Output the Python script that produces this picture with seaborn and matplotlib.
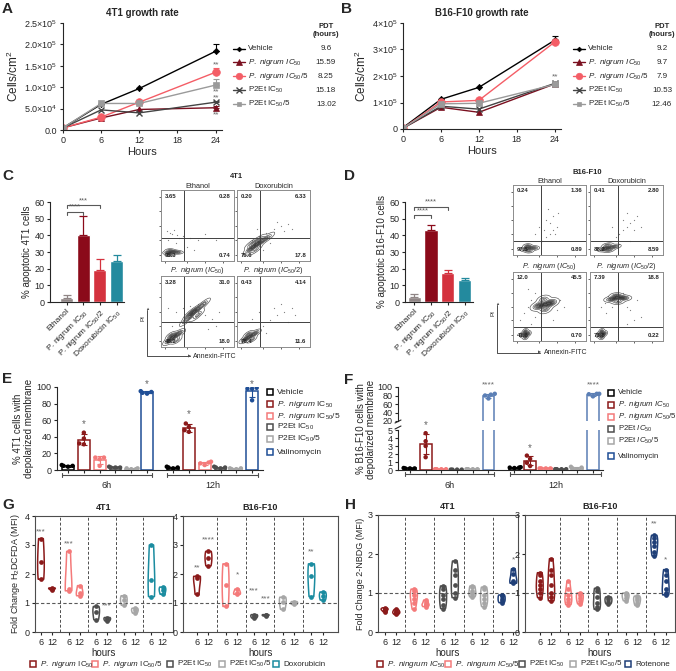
import pandas as pd
import matplotlib
matplotlib.use("Agg")
import matplotlib.pyplot as plt
from matplotlib.lines import Line2D
from matplotlib.patches import Rectangle
import seaborn as sns

sns.set_theme(style="ticks")
plt.rcParams["font.family"] = ["Liberation Sans", "DejaVu Sans"]
plt.rcParams["mathtext.fontset"] = "custom"
plt.rcParams["mathtext.rm"] = "Liberation Sans"
plt.rcParams["mathtext.it"] = "Liberation Sans:italic"
plt.rcParams["mathtext.bf"] = "Liberation Sans:bold"
plt.rcParams["axes.linewidth"] = 0.8
plt.rcParams["xtick.major.width"] = 0.8
plt.rcParams["ytick.major.width"] = 0.8
plt.rcParams["xtick.major.size"] = 2.5
plt.rcParams["ytick.major.size"] = 2.5
plt.rcParams["axes.edgecolor"] = "0.15"

# ---------------- data ----------------
# A / B : growth curves
hours = [0, 6, 12, 24]
a_vehicle = [5e3, 6.0e4, 9.7e4, 1.84e5]
a_pn50 = [5e3, 2.8e4, 4.8e4, 5.2e4]
a_pn5 = [5e3, 3.0e4, 6.5e4, 1.35e5]
a_p2 = [5e3, 4.7e4, 4.0e4, 6.5e4]
a_p25 = [5e3, 6.2e4, 6.2e4, 1.05e5]
a_err24 = [1.6e4, 4e3, 1.1e4, 3e3, 1.5e4]
a_pdt = ["9.6", "15.59", "8.25", "15.18", "13.02"]
a_stars = [1.52e5, 0.9e5, 0.74e5, 0.35e5]

b_vehicle = [5e3, 1.12e5, 1.57e5, 3.35e5]
b_pn50 = [3e3, 0.82e5, 0.63e5, 1.70e5]
b_pn5 = [3e3, 1.02e5, 1.08e5, 3.28e5]
b_p2 = [3e3, 0.86e5, 0.75e5, 1.72e5]
b_p25 = [3e3, 0.95e5, 0.97e5, 1.68e5]
b_err24 = [1.6e4, 8e3, 5e3, 6e3, 8e3]
b_pdt = ["9.2", "9.7", "7.9", "10.53", "12.46"]
b_stars = [1.95e5]

growth_labels = ["Vehicle", r"$\it{P.\ nigrum\ IC_{50}}$", r"$\it{P.\ nigrum\ IC_{50}}$/5",
                 "P2Et IC$_{50}$", "P2Et IC$_{50}$/5"]
growth_colors = ["black", "#7a0f1f", "#f45d66", "#444444", "#9a9a9a"]
growth_markers = ["D", "^", "o", "x", "s"]
growth_ms = [3.2, 4.5, 5.5, 4.5, 4.0]

# C / D : apoptosis bars
apop_labels = ["Ethanol", "P. nigrum IC$_{50}$", "P. nigrum IC$_{50}$/2", "Doxorubicin IC$_{50}$"]
apop_colors = ["#8f8585", "#8b0a1a", "#d4323e", "#238a9e"]
c_mean = [2.5, 40.5, 19.5, 24.5]
c_sd = [1.5, 11.0, 6.5, 4.0]
d_mean = [3.0, 43.5, 17.5, 13.0]
d_sd = [2.0, 2.5, 1.5, 1.3]

# flow cytometry quadrant percentages (UL, UR, LL, LR)
q_4t1 = [["3.65", "0.28", "95.3", "0.74"], ["0.20", "6.33", "75.6", "17.8"],
         ["3.28", "31.0", "48.2", "18.0"], ["0.43", "4.14", "78.4", "11.6"]]
q_b16 = [["0.24", "1.36", "97.5", "0.89"], ["0.41", "2.80", "88.2", "8.59"],
         ["12.0", "45.5", "41.8", "0.70"], ["7.39", "18.8", "73.8", "0.22"]]

# dense cell populations (axis fraction units), one cloud per population
fl_4t1_eth = [([0.09, 0.12, 0.15, 0.12, 0.12, 0.19, 0.24], [0.12, 0.11, 0.13, 0.15, 0.09, 0.13, 0.12])]
fl_4t1_dox = [([0.18, 0.22, 0.28, 0.34, 0.42, 0.25, 0.30, 0.20], [0.16, 0.20, 0.24, 0.28, 0.33, 0.16, 0.30, 0.24])]
fl_4t1_pn = [([0.10, 0.15, 0.20, 0.26, 0.14, 0.21], [0.08, 0.12, 0.16, 0.20, 0.16, 0.10]),
             ([0.35, 0.42, 0.50, 0.58, 0.45, 0.50, 0.40], [0.38, 0.45, 0.53, 0.60, 0.50, 0.45, 0.47])]
fl_4t1_pn2 = [([0.10, 0.15, 0.20, 0.26, 0.16, 0.20], [0.10, 0.13, 0.16, 0.20, 0.18, 0.11])]
fl_b16_eth = [([0.16, 0.20, 0.24, 0.30, 0.20, 0.22], [0.08, 0.10, 0.10, 0.10, 0.13, 0.06])]
fl_b16_dox = [([0.18, 0.22, 0.28, 0.35, 0.24, 0.26], [0.08, 0.10, 0.11, 0.12, 0.14, 0.07])]
fl_b16_pn = [([0.13, 0.17, 0.21, 0.17, 0.17], [0.09, 0.10, 0.11, 0.14, 0.06]),
             ([0.33, 0.40, 0.48, 0.54, 0.42, 0.44], [0.50, 0.52, 0.54, 0.56, 0.60, 0.46])]
fl_b16_pn2 = [([0.12, 0.16, 0.20, 0.16, 0.16], [0.09, 0.10, 0.11, 0.14, 0.06]),
              ([0.28, 0.34, 0.42, 0.48, 0.36, 0.38], [0.60, 0.62, 0.63, 0.62, 0.66, 0.57])]
# sparse events
dots_4t1 = [([0.08, 0.12, 0.15, 0.18, 0.22, 0.30, 0.40, 0.50, 0.60, 0.75, 0.20, 0.35, 0.45, 0.25, 0.10],
             [0.42, 0.40, 0.38, 0.44, 0.36, 0.35, 0.33, 0.30, 0.38, 0.30, 0.25, 0.20, 0.15, 0.32, 0.30]),
            ([0.30, 0.40, 0.50, 0.60, 0.70, 0.55, 0.65, 0.45, 0.35, 0.75, 0.20, 0.28],
             [0.35, 0.40, 0.45, 0.50, 0.52, 0.55, 0.42, 0.25, 0.15, 0.45, 0.30, 0.45]),
            ([0.10, 0.20, 0.30, 0.40, 0.50, 0.60, 0.70, 0.80, 0.15, 0.25, 0.65, 0.75],
             [0.55, 0.50, 0.55, 0.58, 0.60, 0.45, 0.40, 0.50, 0.30, 0.35, 0.25, 0.30]),
            ([0.35, 0.45, 0.55, 0.65, 0.75, 0.60, 0.50, 0.40, 0.20, 0.30, 0.70, 0.80],
             [0.30, 0.38, 0.45, 0.50, 0.55, 0.60, 0.55, 0.20, 0.40, 0.50, 0.35, 0.45])]
dots_b16 = [([0.40, 0.45, 0.50, 0.55, 0.60, 0.50, 0.45, 0.35, 0.55, 0.62, 0.42, 0.48, 0.58, 0.30],
             [0.20, 0.25, 0.30, 0.35, 0.40, 0.45, 0.50, 0.40, 0.55, 0.60, 0.35, 0.65, 0.30, 0.30]),
            ([0.35, 0.40, 0.45, 0.50, 0.55, 0.60, 0.65, 0.50, 0.45, 0.70, 0.30, 0.40, 0.55, 0.60],
             [0.25, 0.30, 0.35, 0.40, 0.45, 0.50, 0.55, 0.60, 0.50, 0.40, 0.40, 0.15, 0.20, 0.35]),
            ([0.10, 0.15, 0.20, 0.25, 0.30, 0.60, 0.65, 0.70, 0.30, 0.25, 0.55, 0.20],
             [0.30, 0.40, 0.50, 0.60, 0.35, 0.45, 0.60, 0.50, 0.70, 0.25, 0.30, 0.75]),
            ([0.20, 0.25, 0.50, 0.55, 0.60, 0.70, 0.22, 0.30, 0.45, 0.65, 0.15, 0.50],
             [0.55, 0.65, 0.50, 0.45, 0.30, 0.35, 0.40, 0.50, 0.70, 0.60, 0.50, 0.25])]

# E / F : depolarised membrane (4 replicates)
depol_names = ["Vehicle", "PN IC50", "PN IC50/5", "P2Et IC50", "P2Et IC50/5", "Valinomycin"]
e_6h = [[4, 5, 6, 5], [45, 38, 32, 31], [15, 15, 13, 5], [3, 4, 3, 3], [1, 2, 2, 1], [92, 93, 94, 95]]
e_12h = [[2, 4, 3, 3], [56, 52, 48, 46], [10, 9, 8, 6], [4, 3, 2, 3], [1, 2, 2, 1], [98, 98, 99, 84]]
f_6h = [[0.2, 0.25, 0.2, 0.2], [4.6, 3.6, 3.0, 1.6], [0.1, 0.1, 0.1, 0.1],
        [0.05, 0.05, 0.05, 0.05], [0.1, 0.1, 0.1, 0.1], [84, 82, 80, 73]]
f_12h = [[0.3, 0.35, 0.3, 0.25], [1.8, 1.4, 0.9, 0.5], [0.2, 0.2, 0.2, 0.2],
         [0.1, 0.1, 0.1, 0.1], [0.4, 0.2, 0.1, 0.3], [84, 84, 83, 78]]
e_colors = ["black", "#8b1a1a", "#f47a7a", "#4d4d4d", "#a6a6a6", "#1f4e96"]
f_colors = ["black", "#8b1a1a", "#f47a7a", "#4d4d4d", "#a6a6a6", "#5b7fb5"]

# G / H : fold change violins (per treatment, 6 h and 12 h)
g_4t1_6 = [[1.82, 2.4, 3.22], [1.42, 1.48, 2.78], [0.42, 0.7, 0.88], [0.92, 1.1, 1.25], [1.22, 1.78, 3.0]]
g_4t1_12 = [[1.46, 1.5, 1.52], [1.25, 1.35, 1.6], [0.38, 0.45, 0.5], [0.65, 0.75, 0.82], [1.3, 1.45, 1.55]]
g_b16_6 = [[1.3, 1.85, 1.92], [0.88, 1.62, 2.35], [0.48, 0.55, 0.6], [0.78, 1.05, 1.2], [1.22, 1.92, 2.35]]
g_b16_12 = [[2.28, 2.55, 2.78], [1.3, 1.35, 1.48], [0.55, 0.58, 0.6], [0.95, 1.0, 1.05], [1.1, 1.25, 1.38]]
h_4t1_6 = [[0.52, 0.55, 0.58, 0.6, 0.62, 0.58], [0.58, 0.75, 0.85, 0.95, 1.05, 1.1],
           [0.6, 0.7, 0.85, 0.95, 1.1, 1.18], [0.9, 0.95, 1.0, 1.05, 1.15, 1.18], [0.75, 0.8, 0.85, 0.92, 0.95]]
h_4t1_12 = [[0.45, 0.48, 0.5, 0.55, 0.58, 0.52], [0.65, 0.68, 0.72, 0.78, 0.82, 0.7],
            [0.88, 1.0, 1.2, 1.45, 1.6, 1.82], [0.65, 0.75, 0.85, 0.95, 1.1, 1.15], [1.25, 1.28, 1.32, 1.5, 1.62]]
h_b16_6 = [[0.88, 1.0, 1.1, 1.2, 1.3, 1.45, 1.52], [0.7, 0.78, 0.85, 0.95, 1.1, 1.3],
           [0.58, 0.65, 0.75, 0.9, 1.05, 1.12], [0.8, 0.88, 0.95, 1.0], [1.95, 2.05, 2.2, 2.3, 2.42, 2.48]]
h_b16_12 = [[0.8, 0.9, 1.0, 1.2, 1.45, 1.6, 1.88], [0.72, 0.8, 0.88, 0.95, 1.0],
            [0.72, 0.78, 0.85, 0.9], [0.68, 0.75, 0.82, 0.88, 0.92], [0.95, 1.0, 1.1, 1.3, 1.45, 1.6]]
g_colors = ["#8b1a1a", "#f47a7a", "#4d4d4d", "#a6a6a6", "#1b8ca0"]
h_colors = ["#8b1a1a", "#f47a7a", "#4d4d4d", "#a6a6a6", "#1f3f78"]
# significance marks: (group, hour index, y, text)
g_4t1_stars = [(0, 0, 3.45, "***"), (1, 0, 3.05, "***"), (2, 1, 0.9, "***")]
g_b16_stars = [(0, 0, 2.2, "**"), (0, 1, 3.18, "****"), (1, 1, 1.97, "*"),
               (2, 0, 1.41, "***"), (2, 1, 1.15, "***"), (4, 0, 2.75, "**")]
h_4t1_stars = [(4, 1, 1.86, "*")]
h_b16_stars = [(4, 0, 2.76, "**"), (4, 1, 1.86, "*")]

# ---------------- figure helpers ----------------
W, H = 676, 671
fig = plt.figure(figsize=(W / 100, H / 100), dpi=100)


def add_ax(l, t, r, b):
    return fig.add_axes([l / W, 1 - b / H, (r - l) / W, (b - t) / H])


def ftext(x, y, s, **kw):
    fig.text(x / W, 1 - y / H, s, **kw)


def fline(xs, ys, **kw):
    fig.add_artist(Line2D([x / W for x in xs], [1 - y / H for y in ys], transform=fig.transFigure, **kw))


def legend_square(x, y, color, label, size=6):
    fig.add_artist(Rectangle(((x - 3) / W, 1 - (y + 3) / H), 6 / W, 6 / H, transform=fig.transFigure,
                             fill=False, edgecolor=color, lw=1.1))
    ftext(x + 7, y, label, va="center", fontsize=size)


for letter, (lx, ly) in zip("ABCDEFGH", [(2, 2), (341, 2), (2, 169), (344, 169),
                                           (2, 372), (344, 373), (2, 498), (345, 498)]):
    ftext(lx, ly, letter, fontsize=11, fontweight="bold", va="top", ha="left")

# ---------------- A / B ----------------
def growth_panel(box, series, errs, stars, title, yticks, yticklabels, ylim, leg_x, pdt_x, pdt):
    ax = add_ax(*box)
    for vals, c, m, ms, e in zip(series, growth_colors, growth_markers, growth_ms, errs):
        sns.lineplot(x=hours, y=vals, color=c, marker=m, markersize=ms, markeredgecolor=c,
                     markeredgewidth=1 if m == "x" else 0.5, linewidth=1, ax=ax)
        ax.errorbar(hours[-1], vals[-1], yerr=[[0], [e]], color=c, capsize=2.5, lw=0.8, capthick=0.8)
    for y in stars:
        ax.text(24, y, "**", ha="center", va="center", fontsize=6, color="0.4")
    ax.set_xlim(0, 25)
    ax.set_ylim(*ylim)
    ax.set_xticks([0, 6, 12, 18, 24])
    ax.set_yticks(yticks)
    ax.set_yticklabels(yticklabels)
    ax.tick_params(labelsize=6.5, pad=1.5)
    ax.set_xlabel("Hours", fontsize=8, labelpad=2)
    ax.set_ylabel("Cells/cm$^2$", fontsize=8.5, labelpad=2)
    ax.set_title(title, fontsize=7, fontweight="bold", pad=5)
    sns.despine(ax=ax)
    rows = [49, 62, 76, 90, 104]
    for y, c, m, ms, lab, p in zip(rows, growth_colors, growth_markers, growth_ms, growth_labels, pdt):
        fline([leg_x - 6, leg_x, leg_x + 6], [y, y, y], color=c, marker=m, markevery=[1], ms=ms - 0.8,
              mec=c, mew=1 if m == "x" else 0.5, lw=1)
        ftext(leg_x + 9, y, lab, va="center", fontsize=5.8)
        ftext(pdt_x, y, p, va="center", ha="center", fontsize=5.8)
    ftext(pdt_x, 27, "PDT", ha="center", va="center", fontsize=5.5, fontweight="bold")
    ftext(pdt_x, 35, "(hours)", ha="center", va="center", fontsize=5.5, fontweight="bold")


growth_panel((63, 23, 222, 130), [a_vehicle, a_pn50, a_pn5, a_p2, a_p25], a_err24, a_stars,
             "4T1 growth rate", [0, 5e4, 1e5, 1.5e5, 2e5, 2.5e5],
             ["0.0", "5.0×10$^4$", "1.0×10$^5$", "1.5×10$^5$", "2.0×10$^5$", "2.5×10$^5$"],
             (0, 2.5e5), 239, 326, a_pdt)
growth_panel((403, 23, 561, 129), [b_vehicle, b_pn50, b_pn5, b_p2, b_p25], b_err24, b_stars,
             "B16-F10 growth rate", [0, 1e5, 2e5, 3e5, 4e5],
             ["0", "1×10$^5$", "2×10$^5$", "3×10$^5$", "4×10$^5$"],
             (0, 4e5), 579, 662, b_pdt)

# ---------------- C / D bars ----------------
def apop_panel(box, means, sds, xlim, ylabel, brackets):
    ax = add_ax(*box)
    sns.barplot(x=apop_labels, y=means, hue=apop_labels, palette=apop_colors, width=0.78, saturation=1,
                errorbar=None, legend=False, ax=ax)
    for i, (m, s, c) in enumerate(zip(means, sds, apop_colors)):
        ax.errorbar(i, m, yerr=[[0], [s]], color=c, capsize=3, lw=0.9, capthick=0.9)
    for txt, x0, x1, y in brackets:
        ax.plot([x0, x0, x1, x1], [y - 1.5, y, y, y - 1.5], color="0.35", lw=0.8, clip_on=False)
        ax.text((x0 + x1) / 2, y + 0.8, txt, ha="center", va="bottom", fontsize=5.5, color="0.35")
    ax.set_xlim(*xlim)
    ax.set_ylim(0, 60)
    ax.set_yticks(range(0, 61, 10))
    ax.tick_params(labelsize=6.5, pad=1.5)
    ax.set_xticks(range(4))
    ax.set_xticklabels(apop_labels, rotation=45, ha="right", rotation_mode="anchor", fontsize=6)
    ax.set_ylabel(ylabel, fontsize=7, labelpad=2)
    sns.despine(ax=ax)


apop_panel((50, 202, 124, 302), c_mean, c_sd, (-1.0, 3.45), "% apoptotic 4T1 cells",
           [("****", 0, 1, 54), ("***", 0, 2, 58)])
apop_panel((405, 202, 473, 302), d_mean, d_sd, (-0.55, 3.5), "% apoptotic B16-F10 cells",
           [("****", 0, 1, 52), ("****", 0, 2, 57)])

# ---------------- flow cytometry ----------------
corners = [(0.05, 0.95, "left", "top"), (0.95, 0.95, "right", "top"),
           (0.05, 0.04, "left", "bottom"), (0.95, 0.04, "right", "bottom")]


def flow_panel(box, clouds, dots, gate, quad, title):
    ax = add_ax(*box)
    ax.scatter(dots[0], dots[1], s=0.8, color="0.5", linewidths=0)
    for xs, ys in clouds:
        sns.kdeplot(x=xs, y=ys, levels=6, thresh=0.35, bw_adjust=0.9, fill=True, cmap="Greys",
                    alpha=0.75, ax=ax)
        sns.kdeplot(x=xs, y=ys, levels=7, thresh=0.04, bw_adjust=0.9, color="0.3", linewidths=0.45, ax=ax)
    ax.axvline(gate[0], color="0.25", lw=0.7)
    ax.axhline(gate[1], color="0.25", lw=0.7)
    for (qx, qy, ha, va), txt in zip(corners, quad):
        ax.text(qx, qy, txt, transform=ax.transAxes, ha=ha, va=va, fontsize=4.3, fontweight="bold")
    ax.set_xlim(0, 1)
    ax.set_ylim(0, 1)
    ax.set_xticks([0.05, 0.35, 0.6, 0.85])
    ax.set_yticks([0.08, 0.3, 0.5, 0.7, 0.9])
    ax.set_xticklabels([])
    ax.set_yticklabels([])
    ax.tick_params(length=1.5, width=0.5)
    ax.set_xlabel("")
    ax.set_ylabel("")
    for sp in ax.spines.values():
        sp.set_color("0.55")
        sp.set_linewidth(0.7)
    ax.set_title(title, fontsize=5.3, pad=1.5)


flow_titles = ["Ethanol", "Doxorubicin", r"$\it{P.\ nigrum\ (IC_{50})}$", r"$\it{P.\ nigrum\ (IC_{50}/2)}$"]
boxes_4t1 = [(161, 190, 234, 261), (237, 190, 310, 261), (161, 276, 234, 347), (237, 276, 310, 347)]
gates_4t1 = [(0.31, 0.32), (0.31, 0.32), (0.32, 0.35), (0.32, 0.35)]
for bx, pop, dots, gt, q, tt in zip(boxes_4t1, [fl_4t1_eth, fl_4t1_dox, fl_4t1_pn, fl_4t1_pn2],
                                    dots_4t1, gates_4t1, q_4t1, flow_titles):
    flow_panel(bx, pop, dots, gt, q, tt)
boxes_b16 = [(513, 185, 586, 255), (590, 185, 663, 255), (513, 272, 586, 341), (590, 272, 663, 341)]
gates_b16 = [(0.38, 0.2), (0.38, 0.2), (0.38, 0.2), (0.38, 0.2)]
for bx, pop, dots, gt, q, tt in zip(boxes_b16, [fl_b16_eth, fl_b16_dox, fl_b16_pn, fl_b16_pn2],
                                    dots_b16, gates_b16, q_b16, flow_titles):
    flow_panel(bx, pop, dots, gt, q, tt)
ftext(236, 176, "4T1", ha="center", va="center", fontsize=5.5, fontweight="bold")
ftext(587, 172, "B16-F10", ha="center", va="center", fontsize=5.5, fontweight="bold")
for vx, top, bot, rx, tx in [(147, 310, 356, 190, 193), (497, 305, 353, 540, 544)]:
    fline([vx, vx, rx], [top, bot, bot], color="0.3", lw=0.7)
    ftext(vx, top - 1, "▲", ha="center", va="center", fontsize=3, color="0.3")
    ftext(rx, bot, "▶", ha="center", va="center", fontsize=3, color="0.3")
    ftext(vx - 4, top + 8, "PI", rotation=90, ha="center", va="center", fontsize=4.5)
    ftext(tx, bot, "Annexin-FITC", ha="left", va="center", fontsize=5)

# ---------------- E / F ----------------
def depol_frame(vals6, vals12):
    rows = []
    for i, name in enumerate(depol_names):
        for vals, off in ((vals6, 0.0), (vals12, 6.65)):
            for v in vals[i]:
                rows.append({"treatment": name, "pos": i + off, "value": v})
    return pd.DataFrame(rows)


def depol_draw(ax, df, colors):
    pal = dict(zip(depol_names, colors))
    sns.barplot(data=df, x="pos", y="value", hue="treatment", palette=pal, native_scale=True, orient="x",
                fill=False, errorbar=None, width=0.75, linewidth=1.1, saturation=1, legend=False, ax=ax)
    stats = df.groupby(["treatment", "pos"], sort=False)["value"].agg(["mean", "std"]).reset_index()
    for _, r in stats.iterrows():
        ax.errorbar(r["pos"], r["mean"], yerr=r["std"], color=pal[r["treatment"]], capsize=2,
                    lw=0.8, capthick=0.8)
    sns.swarmplot(data=df, x="pos", y="value", hue="treatment", palette=pal, native_scale=True,
                  orient="x", size=3.2, legend=False, ax=ax)
    ax.set_xlabel("")
    ax.set_ylabel("")


positions = [i + off for off in (0.0, 6.65) for i in range(6)]

df_e = depol_frame(e_6h, e_12h)
ax_e = add_ax(57, 387, 263, 470)
depol_draw(ax_e, df_e, e_colors)
ax_e.set_xlim(-0.7, 12.34)
ax_e.set_ylim(0, 100)
ax_e.set_yticks(range(0, 101, 20))
ax_e.set_xticks(positions)
ax_e.set_xticklabels([])
ax_e.tick_params(labelsize=6.5, pad=1.5)
ax_e.set_ylabel("% 4T1 cells with\ndepolarized membrane", fontsize=7, labelpad=2, linespacing=1.1)
for gi, ti, y in [(1, 0, 55), (5, 0, 104), (1, 1, 67), (5, 1, 104)]:
    ax_e.text(gi + ti * 6.65, y, "*", ha="center", va="center", fontsize=7, color="0.4", clip_on=False)
sns.despine(ax=ax_e)

df_f = depol_frame(f_6h, f_12h)
ax_ft = add_ax(398, 387, 603, 421)
ax_fb = add_ax(398, 430, 603, 470)
for ax in (ax_ft, ax_fb):
    depol_draw(ax, df_f, f_colors)
    ax.set_xlim(-0.76, 12.29)
    ax.tick_params(labelsize=6.5, pad=1.5)
ax_ft.set_ylim(20, 100)
ax_ft.set_yticks(range(20, 101, 20))
ax_ft.set_xticks([])
ax_fb.set_ylim(0, 5)
ax_fb.set_yticks(range(0, 6))
ax_fb.set_xticks(positions)
ax_fb.set_xticklabels([])
sns.despine(ax=ax_ft, bottom=True)
sns.despine(ax=ax_fb)
fline([395, 401], [423, 420], color="0.15", lw=0.8)
fline([395, 401], [429, 426], color="0.15", lw=0.8)
ax_fb.text(1, 5.6, "*", ha="center", va="center", fontsize=7, color="0.4", clip_on=False)
ax_fb.text(1 + 6.65, 2.8, "*", ha="center", va="center", fontsize=7, color="0.4", clip_on=False)
for p in (5, 5 + 6.65):
    ax_ft.text(p, 105, "****", ha="center", va="center", fontsize=6, color="0.4", clip_on=False)
ftext(366, 429, "% B16-F10 cells with\ndepolarized membrane", rotation=90, ha="center", va="center",
      fontsize=7, linespacing=1.1)

for (x0, x1, y, lab) in [(62, 152, 475, "6h"), (167, 258, 475, "12h"),
                         (405, 494, 474, "6h"), (510, 601, 474, "12h")]:
    fline([x0, x1], [y, y], color="0.3", lw=0.8)
    fline([x0, x0], [y - 2, y + 2], color="0.3", lw=0.8)
    fline([x1, x1], [y - 2, y + 2], color="0.3", lw=0.8)
    ftext((x0 + x1) / 2, y + 11, lab, ha="center", va="center", fontsize=6.5)

e_leg = ["Vehicle", r"$\it{P.\ nigrum}$ IC$_{50}$", r"$\it{P.\ nigrum}$ IC$_{50}$/5",
         "P2Et IC$_{50}$", "P2Et IC$_{50}$/5", "Valinomycin"]
for y, c, lab in zip([392, 404, 416, 427, 439, 452], e_colors, e_leg):
    legend_square(270, y, c, lab)
f_leg = ["Vehicle", r"$\it{P.\ nigrum\ IC_{50}}$", r"$\it{P.\ nigrum\ IC_{50}/5}$",
         r"P2Et $\it{IC_{50}}$", r"P2Et $\it{IC_{50}/5}$", "Valinomycin"]
for y, c, lab in zip([393, 405, 417, 429, 441, 456], e_colors, f_leg):
    legend_square(611, y, c, lab, size=5.6)

# ---------------- G / H ----------------
def violin_panel(box, xlim, vals6, vals12, colors, stars, ylim, title, ylabel=None):
    ax = add_ax(*box)
    for g in range(5):
        xs = [2 * g] * len(vals6[g]) + [2 * g + 0.8] * len(vals12[g])
        ys = vals6[g] + vals12[g]
        sns.violinplot(x=xs, y=ys, native_scale=True, orient="x", color=colors[g], fill=False, cut=0,
                       inner=None, linewidth=1.1, width=0.6, density_norm="width", saturation=1, ax=ax)
        sns.stripplot(x=xs, y=ys, native_scale=True, orient="x", color=colors[g], jitter=False,
                      size=3.4, ax=ax)
    for g in range(4):
        ax.axvline(2 * g + 1.4, color="0.3", lw=0.7, ls=(0, (3, 2)))
    ax.axhline(1, color="0.35", lw=0.8, ls=(0, (3, 2)))
    for g, hi, y, txt in stars:
        ax.text(2 * g + 0.8 * hi, y, txt, ha="center", va="center", fontsize=6, color="0.4")
    ax.set_xlim(*xlim)
    ax.set_ylim(*ylim)
    ax.set_yticks(range(0, int(ylim[1]) + 1))
    ax.set_xticks([p for g in range(5) for p in (2 * g, 2 * g + 0.8)])
    ax.set_xticklabels(["6", "12"] * 5)
    ax.tick_params(labelsize=6.5, pad=1.5)
    ax.set_xlabel("hours", fontsize=7, labelpad=1)
    ax.set_ylabel(ylabel if ylabel else "", fontsize=6.5, labelpad=2)
    ax.set_title(title, fontsize=6.5, fontweight="bold", pad=4)
    for sp in ax.spines.values():
        sp.set_color("0.3")
    return ax


violin_panel((35, 516, 173, 632), (-0.43, 9.56), g_4t1_6, g_4t1_12, g_colors, g_4t1_stars, (0, 4),
             "4T1", "Fold Change H$_2$DCFDA (MFI)")
violin_panel((183, 516, 338, 632), (-0.98, 9.86), g_b16_6, g_b16_12, g_colors, g_b16_stars, (0, 4),
             "B16-F10")
violin_panel((378, 515, 518, 632), (-0.45, 9.12), h_4t1_6, h_4t1_12, h_colors, h_4t1_stars, (0, 3),
             "4T1", "Fold Change 2-NBDG (MFI)")
violin_panel((525, 515, 675, 632), (-1.03, 9.45), h_b16_6, h_b16_12, h_colors, h_b16_stars, (0, 3),
             "B16-F10")

g_leg = [r"$\it{P.\ nigrum}$ IC$_{50}$", r"$\it{P.\ nigrum}$ IC$_{50}$/5", "P2Et IC$_{50}$",
         "P2Et IC$_{50}$/5", "Doxorubicin"]
for x, c, lab in zip([33, 95, 170, 222, 276], g_colors, g_leg):
    legend_square(x, 664, c, lab, size=5.8)
h_leg = [r"$\it{P.\ ningrum\ IC_{50}}$", r"$\it{P.\ ningrum\ IC_{50}/5}$", "P2Et IC$_{50}$",
         "P2Et IC$_{50}$/5", "Rotenone"]
for x, c, lab in zip([380, 448, 522, 573, 628], h_colors, h_leg):
    legend_square(x, 664, c, lab, size=5.8)

fig.savefig("out.png", dpi=100)
